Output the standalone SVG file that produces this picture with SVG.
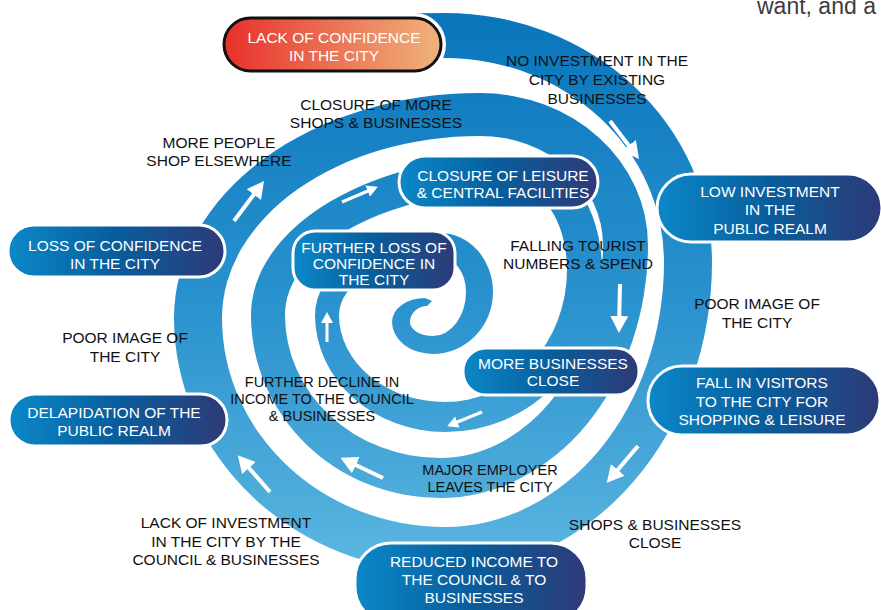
<svg xmlns="http://www.w3.org/2000/svg" width="881" height="610" viewBox="0 0 881 610">
<defs>
<linearGradient id="bandGrad" gradientUnits="userSpaceOnUse" x1="0" y1="0" x2="0" y2="610">
<stop offset="0" stop-color="#0774bb"/>
<stop offset="0.5" stop-color="#2a92ce"/>
<stop offset="1" stop-color="#64bce3"/>
</linearGradient>
<linearGradient id="nodeGrad" x1="0" y1="0" x2="1" y2="0">
<stop offset="0" stop-color="#0b88c8"/>
<stop offset="0.5" stop-color="#085d9c"/>
<stop offset="1" stop-color="#2e3a77"/>
</linearGradient>
<linearGradient id="redGrad" x1="0" y1="0" x2="1" y2="0">
<stop offset="0" stop-color="#e8302b"/>
<stop offset="1" stop-color="#efb47d"/>
</linearGradient>
<marker id="headL" markerUnits="userSpaceOnUse" viewBox="0 0 17 18" refX="12" refY="9" markerWidth="17" markerHeight="18" orient="auto">
<path d="M0,0 L17,9 L0,18 Z" fill="#fff"/>
</marker>
<marker id="headS" markerUnits="userSpaceOnUse" viewBox="0 0 11 12" refX="8" refY="6" markerWidth="11" markerHeight="12" orient="auto">
<path d="M0,0 L11,6 L0,12 Z" fill="#fff"/>
</marker>
<style>
.lbl{font-family:"Liberation Sans",Arial,sans-serif;font-size:15.5px;fill:#111;text-anchor:middle}
.lbs{font-family:"Liberation Sans",Arial,sans-serif;font-size:14.5px;fill:#111;text-anchor:middle}
.nt{font-family:"Liberation Sans",Arial,sans-serif;font-size:15.5px;fill:#fff;text-anchor:middle}
.node{fill:url(#nodeGrad);stroke:#fff;stroke-width:3}
.arL{stroke:#fff;stroke-width:4;fill:none;marker-end:url(#headL)}
.arS{stroke:#fff;stroke-width:3;fill:none;marker-end:url(#headS)}
</style>
</defs>
<rect width="881" height="610" fill="#fff"/>
<text x="757" y="14" font-family="Liberation Sans, Arial, sans-serif" font-size="23" fill="#3c3c3c">want, and a</text>

<g id="spiral">
<path fill="url(#bandGrad)" d="M 395 13.5 L 445 13
A 267 249 0 0 1 712 262
A 267 310 0 0 1 445 572
A 271 254 0 0 1 174 318
A 306 225 0 0 1 480 93
A 168 152 0 0 1 648 245
A 208 253 0 0 1 440 498
A 189 183 0 0 1 251 315
A 269 160 0 0 1 520 155
A 82 115 0 0 1 602 270
A 157 162 0 0 1 445 432
A 130 117 0 0 1 315 315
A 125 82 0 0 1 440 233
A 53 59 0 0 1 493 292
A 60 62 0 0 1 433 354
A 41 32 0 0 1 392 322
A 33 24 0 0 1 425 298
L 432 301 L 427 306
A 17 16 0 0 0 410 322
A 23 14 0 0 0 433 336
A 33 44 0 0 0 466 292
A 26 35 0 0 0 440 257
A 101 58 0 0 0 339 315
A 106 87 0 0 0 445 402
A 122 132 0 0 0 567 270
A 47 80 0 0 0 520 190
A 235 125 0 0 0 285 315
A 155 143 0 0 0 440 458
A 163 213 0 0 0 603 245
A 123 109 0 0 0 480 136
A 258 182 0 0 0 222 318
A 223 209 0 0 0 445 527
A 219 265 0 0 0 664 262
A 219 204 0 0 0 445 58
L 395 58 Z"/>
</g>

<g id="connectors">
<line class="arL" x1="610" y1="121" x2="636" y2="155"/>
<line class="arL" x1="638" y1="446" x2="610" y2="479"/>
<line class="arL" x1="270" y1="492" x2="241" y2="459"/>
<line class="arL" x1="234" y1="221" x2="261" y2="185"/>
<line class="arL" x1="620" y1="284" x2="619" y2="328"/>
<line class="arL" x1="383" y1="478" x2="345" y2="460"/>
<line class="arS" x1="342" y1="202" x2="375" y2="188"/>
<line class="arS" x1="482" y1="412" x2="450" y2="425"/>
<line class="arS" x1="327" y1="342" x2="327" y2="315"/>
</g>

<g id="n-lack-confidence">
<rect x="224" y="18" width="217" height="53" rx="26.5" fill="none" stroke="#fff" stroke-width="10"/>
<rect x="224" y="18" width="217" height="53" rx="26.5" fill="url(#redGrad)" stroke="#111" stroke-width="3"/>
<text class="nt" x="334" y="43">LACK OF CONFIDENCE</text>
<text class="nt" x="334" y="61">IN THE CITY</text>
</g>

<g id="n-low-investment">
<rect class="node" x="657" y="174" width="225" height="68" rx="34"/>
<text class="nt" x="770" y="197">LOW INVESTMENT</text>
<text class="nt" x="770" y="215">IN THE</text>
<text class="nt" x="770" y="234">PUBLIC REALM</text>
</g>

<g id="n-fall-visitors">
<rect class="node" x="648" y="366" width="232" height="69" rx="34"/>
<text class="nt" x="762" y="388">FALL IN VISITORS</text>
<text class="nt" x="762" y="407">TO THE CITY FOR</text>
<text class="nt" x="762" y="425">SHOPPING &amp; LEISURE</text>
</g>

<g id="n-reduced-income">
<rect class="node" x="355" y="543" width="232" height="80" rx="36"/>
<text class="nt" x="474" y="567">REDUCED INCOME TO</text>
<text class="nt" x="474" y="585">THE COUNCIL &amp; TO</text>
<text class="nt" x="474" y="603">BUSINESSES</text>
</g>

<g id="n-delapidation">
<rect class="node" x="9" y="394" width="218" height="52" rx="26"/>
<text class="nt" x="114" y="418">DELAPIDATION OF THE</text>
<text class="nt" x="114" y="436">PUBLIC REALM</text>
</g>

<g id="n-loss-confidence">
<rect class="node" x="8" y="225" width="217" height="52" rx="26"/>
<text class="nt" x="115" y="251">LOSS OF CONFIDENCE</text>
<text class="nt" x="115" y="269">IN THE CITY</text>
</g>

<g id="n-closure-leisure">
<rect class="node" x="399" y="156" width="199" height="52" rx="26"/>
<text class="nt" x="503" y="181" font-size="14.5">CLOSURE OF LEISURE</text>
<text class="nt" x="503" y="198" font-size="14.5">&amp; CENTRAL FACILITIES</text>
</g>

<g id="n-further-loss">
<rect class="node" x="293" y="231" width="162" height="59" rx="22"/>
<text class="nt" x="374" y="253" font-size="13.5">FURTHER LOSS OF</text>
<text class="nt" x="374" y="269" font-size="13.5">CONFIDENCE IN</text>
<text class="nt" x="374" y="285" font-size="13.5">THE CITY</text>
</g>

<g id="n-more-businesses">
<rect class="node" x="463" y="348" width="176" height="47" rx="23"/>
<text class="nt" x="553" y="369" font-size="14">MORE BUSINESSES</text>
<text class="nt" x="553" y="386" font-size="14">CLOSE</text>
</g>

<g id="labels">
<text class="lbl" x="597" y="66">NO INVESTMENT IN THE</text>
<text class="lbl" x="597" y="85">CITY BY EXISTING</text>
<text class="lbl" x="597" y="104">BUSINESSES</text>
<text class="lbl" x="376" y="110">CLOSURE OF MORE</text>
<text class="lbl" x="376" y="128">SHOPS &amp; BUSINESSES</text>
<text class="lbl" x="219" y="148">MORE PEOPLE</text>
<text class="lbl" x="219" y="166">SHOP ELSEWHERE</text>
<text class="lbl" x="578" y="251">FALLING TOURIST</text>
<text class="lbl" x="578" y="269">NUMBERS &amp; SPEND</text>
<text class="lbl" x="757" y="309">POOR IMAGE OF</text>
<text class="lbl" x="757" y="328">THE CITY</text>
<text class="lbl" x="125" y="343">POOR IMAGE OF</text>
<text class="lbl" x="125" y="362">THE CITY</text>
<text class="lbs" x="322" y="387">FURTHER DECLINE IN</text>
<text class="lbs" x="322" y="404">INCOME TO THE COUNCIL</text>
<text class="lbs" x="322" y="421">&amp; BUSINESSES</text>
<text class="lbs" x="490" y="475">MAJOR EMPLOYER</text>
<text class="lbs" x="490" y="492">LEAVES THE CITY</text>
<text class="lbl" x="655" y="530">SHOPS &amp; BUSINESSES</text>
<text class="lbl" x="655" y="548">CLOSE</text>
<text class="lbl" x="226" y="528">LACK OF INVESTMENT</text>
<text class="lbl" x="226" y="547">IN THE CITY BY THE</text>
<text class="lbl" x="226" y="565">COUNCIL &amp; BUSINESSES</text>
</g>
</svg>
